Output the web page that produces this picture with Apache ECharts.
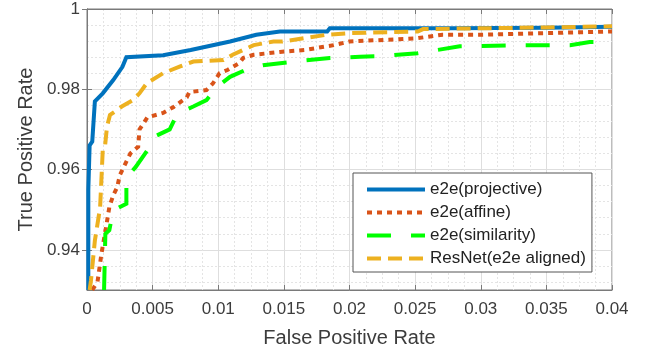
<!DOCTYPE html>
<html><head><meta charset="utf-8">
<script src="https://cdn.jsdelivr.net/npm/echarts@6/dist/echarts.min.js"></script>
<style>html,body{margin:0;padding:0;background:#fff}#c{width:646px;height:356px}</style>
</head><body><div id="c"></div>
<script>
const seriesNames = ['e2e(projective)', 'e2e(affine)', 'e2e(similarity)', 'ResNet(e2e aligned)'];
const projective = [[0.0001,0.93],[0.0001,0.955],[0.0002,0.966],[0.0004,0.967],[0.0006,0.977],[0.0012,0.979],[0.002,0.9823],[0.0027,0.9856],[0.003,0.988],[0.0058,0.9885],[0.0079,0.9898],[0.0109,0.9919],[0.0129,0.9936],[0.0147,0.9944],[0.0183,0.9944],[0.0185,0.9952],[0.0277,0.9952],[0.035,0.9953],[0.04,0.9956]];
const affine = [[0.0004,0.93],[0.0008,0.932],[0.0011,0.939],[0.0015,0.9466],[0.0017,0.9506],[0.002,0.9536],[0.0023,0.9556],[0.0025,0.9586],[0.0033,0.964],[0.0039,0.9657],[0.004,0.97],[0.0046,0.973],[0.0058,0.9741],[0.0066,0.9756],[0.0076,0.978],[0.0078,0.9793],[0.0091,0.9798],[0.0096,0.9815],[0.0101,0.984],[0.0107,0.9848],[0.0116,0.9865],[0.0119,0.9878],[0.0127,0.9886],[0.0147,0.9893],[0.0166,0.9898],[0.0188,0.991],[0.02,0.9919],[0.0251,0.9927],[0.0271,0.9936],[0.03,0.9936],[0.035,0.994],[0.04,0.9944]];
const similarity = [[0.0013,0.93],[0.0014,0.944],[0.0017,0.9449],[0.002,0.9498],[0.003,0.9515],[0.003,0.958],[0.0037,0.9606],[0.0046,0.9648],[0.005,0.9673],[0.005,0.968],[0.0063,0.97],[0.0069,0.974],[0.0081,0.9757],[0.0091,0.9773],[0.0099,0.9806],[0.0109,0.9831],[0.0124,0.9853],[0.0134,0.986],[0.0155,0.9868],[0.0185,0.9878],[0.0208,0.9881],[0.0226,0.9883],[0.0252,0.989],[0.0267,0.9898],[0.0284,0.9907],[0.0332,0.991],[0.0368,0.991],[0.0383,0.9918],[0.04,0.9918]];
const resnet = [[0.0002,0.93],[0.0003,0.9323],[0.0006,0.9423],[0.001,0.9506],[0.0012,0.9648],[0.00137,0.9657],[0.00152,0.9706],[0.00175,0.9736],[0.00265,0.9757],[0.0035,0.9773],[0.004,0.979],[0.00455,0.9815],[0.0058,0.984],[0.0071,0.9857],[0.0081,0.9869],[0.0104,0.9873],[0.0111,0.9886],[0.0119,0.9898],[0.0127,0.991],[0.0142,0.9919],[0.0149,0.9919],[0.0183,0.9936],[0.02,0.994],[0.0252,0.9944],[0.0256,0.995],[0.03,0.9952],[0.035,0.9954],[0.04,0.9957]];
const yMajorTicks = [0.94, 0.96, 0.98, 1];
const yMinorTicks = [0.932,0.936,0.944,0.948,0.952,0.956,0.964,0.968,0.972,0.976,0.984,0.988,0.992,0.996];

const FONT = '"Liberation Sans", Arial, sans-serif';
const AX = '#7a7a7a', TXT = '#3c3c3c';
const chart = echarts.init(document.getElementById('c'), null, {renderer: 'canvas'});
const mk = (name, data, color, type, z) => ({
  name, type: 'line', data, showSymbol: false, symbol: 'none', z,
  xAxisIndex: 0, yAxisIndex: 0,
  lineStyle: {color, width: 4, type, cap: 'butt', join: 'miter'},
  itemStyle: {color}
});
chart.setOption({
  animation: false,
  grid: {left: 87, right: 34, top: 9, bottom: 66, show: true, borderColor: AX, borderWidth: 1, backgroundColor: '#fff'},
  legend: {
    data: seriesNames, orient: 'vertical', left: 353, top: 173,
    itemWidth: 58, itemHeight: 17, itemGap: 6,
    padding: [8, 6, 5, 12],
    itemStyle: {opacity: 0, borderWidth: 0},
    lineStyle: {width: 4},
    backgroundColor: '#fff', borderColor: '#555', borderWidth: 1, borderRadius: 0,
    textStyle: {fontFamily: FONT, fontSize: 17, color: '#222'}
  },
  xAxis: [{
    type: 'value', min: 0, max: 0.04, interval: 0.005,
    axisLine: {show: true, onZero: false, lineStyle: {color: AX}},
    axisTick: {show: true, inside: true, length: 5, lineStyle: {color: AX}},
    axisLabel: {fontFamily: FONT, fontSize: 17, color: TXT, margin: 11},
    splitLine: {show: true, lineStyle: {color: '#dedede', width: 1}},
    minorTick: {show: false, splitNumber: 4},
    minorSplitLine: {show: true, lineStyle: {color: '#e4e4e4', type: [2, 2], width: 1}},
    name: 'False Positive Rate', nameLocation: 'middle', nameGap: 38,
    nameTextStyle: {fontFamily: FONT, fontSize: 20, color: TXT}
  }, {
    type: 'value', min: 0, max: 0.04, interval: 0.005, position: 'top',
    axisLine: {show: true, lineStyle: {color: AX}},
    axisTick: {show: true, inside: true, length: 5, lineStyle: {color: AX}},
    axisLabel: {show: false}, splitLine: {show: false}
  }],
  yAxis: [{
    type: 'value', min: 0.93, max: 1, position: 'left',
    axisLine: {show: true, onZero: false, lineStyle: {color: AX}},
    axisTick: {show: true, inside: true, length: 5, customValues: yMajorTicks, lineStyle: {color: AX}},
    axisLabel: {fontFamily: FONT, fontSize: 17, color: TXT, margin: 7, customValues: yMajorTicks},
    splitLine: {show: true, lineStyle: {color: '#dedede', width: 1}},
    name: 'True Positive Rate', nameLocation: 'middle', nameGap: 46,
    nameTextStyle: {fontFamily: FONT, fontSize: 20, color: TXT}
  }, {
    type: 'value', min: 0.93, max: 1, position: 'left',
    axisLine: {show: false}, axisTick: {show: false, customValues: yMinorTicks},
    axisLabel: {show: false, customValues: yMinorTicks},
    splitLine: {show: true, lineStyle: {color: '#e4e4e4', type: [2, 2], width: 1}}
  }, {
    type: 'value', min: 0.93, max: 1, position: 'right',
    axisLine: {show: true, lineStyle: {color: AX}},
    axisTick: {show: true, inside: true, length: 5, customValues: yMajorTicks, lineStyle: {color: AX}},
    axisLabel: {show: false, customValues: yMajorTicks}, splitLine: {show: false}
  }],
  series: [
    mk(seriesNames[0], projective, '#0072BD', 'solid', 2),
    mk(seriesNames[1], affine, '#D95319', [5, 5], 3),
    mk(seriesNames[2], similarity, '#00FF00', [24, 20], 4),
    mk(seriesNames[3], resnet, '#EDB120', [14, 7], 5)
  ]
});
</script></body></html>
